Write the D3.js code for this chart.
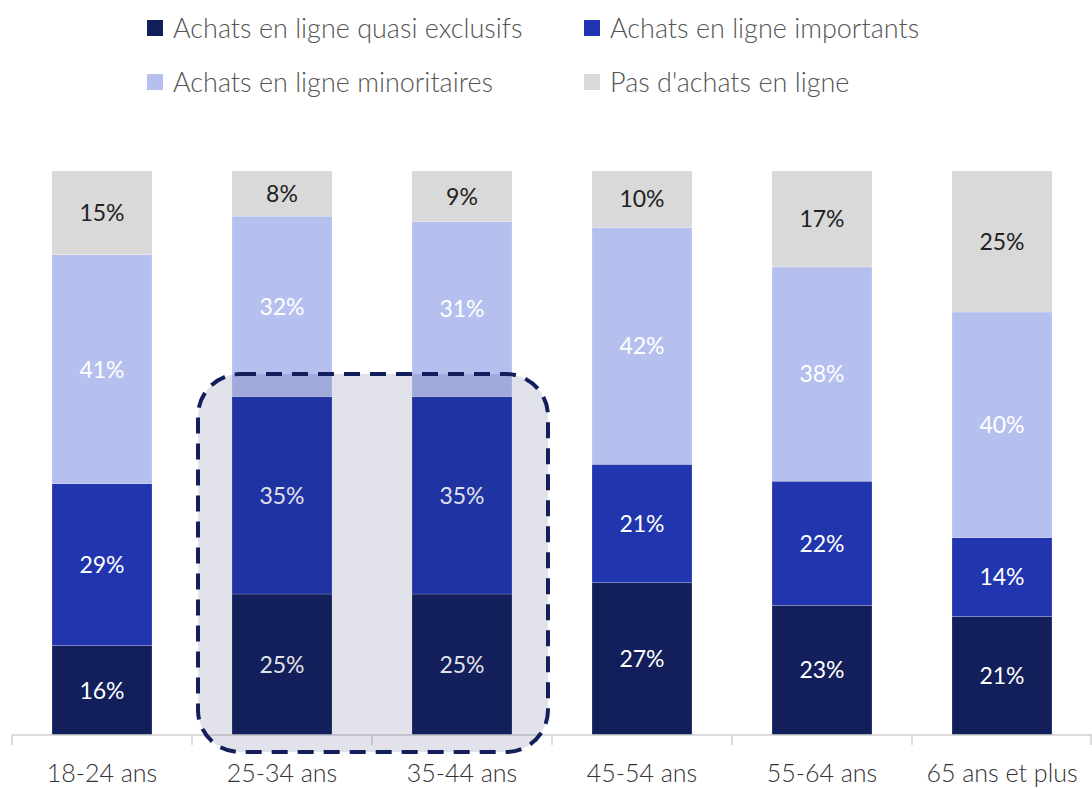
<!DOCTYPE html>
<html>
<head>
<meta charset="utf-8">
<script src="https://cdn.jsdelivr.net/npm/d3@7"></script>
<style>
  body { margin: 0; background: #fff; }
  svg { display: block; font-family: Lato, "Open Sans", sans-serif; }
</style>
</head>
<body>
<div id="chart"></div>
<script>
const categories = ["18-24 ans", "25-34 ans", "35-44 ans", "45-54 ans", "55-64 ans", "65 ans et plus"];
const seriesNames = ["Achats en ligne quasi exclusifs", "Achats en ligne importants", "Achats en ligne minoritaires", "Pas d'achats en ligne"];
const quasiExclusifs = [16, 25, 25, 27, 23, 21];
const importants = [29, 35, 35, 21, 22, 14];
const minoritaires = [41, 32, 31, 42, 38, 40];
const pasAchats = [15, 8, 9, 10, 17, 25];
const highlighted = ["25-34 ans", "35-44 ans"];

const colors = ["#121f5a", "#2136ae", "#b6c0ee", "#d9d9d9"];
const labelColors = ["#fff", "#fff", "#fff", "#222"];

const width = 1092, height = 789;
const margin = {top: 171, right: 0, bottom: 54, left: 12};

const rows = categories.map((c, i) => ({
    cat: c,
    s0: quasiExclusifs[i], s1: importants[i], s2: minoritaires[i], s3: pasAchats[i]
}));
const keys = ["s0", "s1", "s2", "s3"];
const stack = d3.stack().keys(keys).offset(d3.stackOffsetExpand)(rows);

const svg = d3.select("#chart").append("svg")
    .attr("width", width)
    .attr("height", height);

const x = d3.scaleBand()
    .domain(categories)
    .range([margin.left, width - margin.right])
    .paddingInner(80 / 180)
    .paddingOuter(40 / 180);

const y = d3.scaleLinear()
    .domain([0, 1])
    .range([height - margin.bottom, margin.top]);

const step = x.step();
const bw = x.bandwidth();

// bars
const layers = svg.selectAll(".layer")
    .data(stack)
    .enter().append("g")
    .attr("class", "layer")
    .attr("fill", (d, i) => colors[i]);

layers.selectAll("rect")
    .data(d => d)
    .enter().append("rect")
    .attr("x", d => x(d.data.cat))
    .attr("y", d => y(d[1]))
    .attr("width", bw)
    .attr("height", d => y(d[0]) - y(d[1]))
    .attr("stroke", "#fff")
    .attr("stroke-opacity", 0.35)
    .attr("stroke-width", 0.6);

// value labels
stack.forEach((layer, li) => {
    svg.selectAll(".lab" + li)
        .data(layer)
        .enter().append("text")
        .attr("class", "lab" + li)
        .attr("x", d => x(d.data.cat) + bw / 2)
        .attr("y", d => (y(d[0]) + y(d[1])) / 2)
        .attr("dy", "0.36em")
        .attr("text-anchor", "middle")
        .attr("font-size", "23px")
        .attr("font-weight", 400)
        .attr("fill", labelColors[li])
        .text(d => d.data[layer.key] + "%");
});

// axis
const axisY = y(0);
svg.append("line")
    .attr("x1", margin.left).attr("x2", width)
    .attr("y1", axisY).attr("y2", axisY)
    .attr("stroke", "#d0d0d0").attr("stroke-width", 1.5);

const tickXs = categories.map(c => x(c) - (step - bw) / 2);
tickXs.push(width - 1);
svg.selectAll(".tick")
    .data(tickXs)
    .enter().append("line")
    .attr("class", "tick")
    .attr("x1", d => d).attr("x2", d => d)
    .attr("y1", axisY).attr("y2", axisY + 10)
    .attr("stroke", "#d0d0d0").attr("stroke-width", 1.5);

svg.selectAll(".xlab")
    .data(categories)
    .enter().append("text")
    .attr("class", "xlab")
    .attr("x", d => x(d) + bw / 2)
    .attr("y", axisY + 47)
    .attr("text-anchor", "middle")
    .attr("font-size", "25px")
    .attr("font-weight", 300)
    .attr("fill", "#333")
    .text(d => d);

// highlight box over the two middle categories
const hx0 = x(highlighted[0]) - (step - bw) / 2 + 6;
const hx1 = x(highlighted[1]) + bw + (step - bw) / 2 - 4;
const hy0 = y(0.64);
const hy1 = axisY + 17;
svg.append("rect")
    .attr("x", hx0)
    .attr("y", hy0)
    .attr("width", hx1 - hx0)
    .attr("height", hy1 - hy0)
    .attr("rx", 42)
    .attr("fill", "#141f5a")
    .attr("fill-opacity", 0.13)
    .attr("stroke", "#121f5a")
    .attr("stroke-width", 4)
    .attr("stroke-dasharray", "16 10");

// legend
const legendPos = [[147, 28], [584, 28], [147, 82], [584, 82]];
const legend = svg.selectAll(".legend")
    .data(seriesNames)
    .enter().append("g")
    .attr("class", "legend")
    .attr("transform", (d, i) => `translate(${legendPos[i][0]},${legendPos[i][1]})`);

legend.append("rect")
    .attr("x", 0).attr("y", -8)
    .attr("width", 16).attr("height", 16)
    .attr("fill", (d, i) => colors[i]);

legend.append("text")
    .attr("x", 26)
    .attr("y", 0)
    .attr("dy", "0.36em")
    .attr("font-size", "27px")
    .attr("font-weight", 300)
    .attr("fill", "#555")
    .text(d => d);
</script>
</body>
</html>
